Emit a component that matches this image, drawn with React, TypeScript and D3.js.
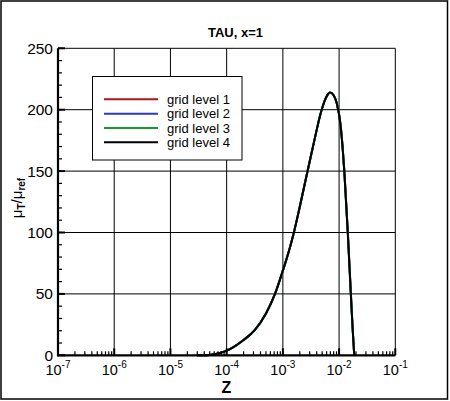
import React from "react";
import * as d3 from "d3";

const zValues = [3.0e-5, 3.98e-5, 5.01e-5, 7.08e-5, 1.0e-4, 1.41e-4, 2.0e-4, 3.16e-4, 5.01e-4, 7.24e-4, 1.0e-3, 1.32e-3, 1.55e-3, 2.0e-3, 2.66e-3, 3.55e-3, 4.9e-3, 6.03e-3, 6.92e-3, 7.94e-3, 9.12e-3, 1.05e-2, 1.15e-2, 1.245e-2, 1.43e-2, 1.62e-2, 1.74e-2, 1.86e-2];
const level1 = [0, 0, 0.3, 1.5, 3.8, 7.5, 12.5, 20.5, 34, 50, 69, 87, 99, 121, 147, 173, 200, 211, 214, 212, 205, 190, 171, 149, 101, 51, 23, 0];
const level2 = [0, 0, 0.3, 1.5, 3.8, 7.5, 12.5, 20.5, 34, 50, 69, 87, 99, 121, 147, 173, 200, 211, 214, 212, 205, 189, 171, 149, 100, 50, 22, 0];
const level3 = [0, 0, 0.3, 1.5, 3.8, 7.5, 12.5, 20.5, 34, 50, 69, 87, 99, 121, 147, 173, 200, 211, 214, 212, 205, 189, 170, 148, 99, 50, 22, 0];
const level4 = [0, 0, 0.3, 1.5, 3.8, 7.5, 12.5, 20.5, 34, 50, 69, 87, 99, 121, 147, 173, 200, 211, 214, 212, 205, 189, 170, 148, 99, 49, 22, 0];

const seriesNames = ["grid level 1", "grid level 2", "grid level 3", "grid level 4"];
const seriesColors = ["#b0141e", "#2838c8", "#189a28", "#000000"];
const seriesData = [level1, level2, level3, level4];

const xTickExps = [-7, -6, -5, -4, -3, -2, -1];
const yTicks = [0, 50, 100, 150, 200, 250];
const yMinorTicks = d3.range(0, 251, 10);

const title = "TAU, x=1";
const xLabel = "Z";

export default function App() {
  const W = 450;
  const H = 401;
  const left = 58;
  const right = 395.3;
  const top = 48.3;
  const bottom = 355.3;

  const x = d3.scaleLog().domain([1e-7, 1e-1]).range([left, right]);
  const y = d3.scaleLinear().domain([0, 250]).range([bottom, top]);

  const line = d3
    .line<[number, number]>()
    .x((d) => x(d[0]))
    .y((d) => y(d[1]))
    .curve(d3.curveMonotoneX);

  const xMinor: number[] = [];
  for (let e = -7; e < -1; e++) {
    for (let m = 2; m <= 9; m++) xMinor.push(m * Math.pow(10, e));
  }

  const font = "'Liberation Sans', Arial, Helvetica, sans-serif";

  const legX = 92.5;
  const legY = 76.5;
  const legW = 149.5;
  const legH = 83.5;
  const rowY = [99.3, 113.7, 128, 142.3];

  return (
    <svg
      width={W}
      height={H}
      style={{ position: "absolute", left: 0, top: 0, background: "#fff" }}
      fontFamily={font}
    >
      <rect x={0} y={0} width={W} height={H} fill="#fff" />
      <rect x={1} y={1} width={446.5} height={398} fill="none" stroke="#000" strokeWidth={1.5} />

      {/* grid */}
      {xTickExps.slice(1).map((e) => (
        <line key={"gx" + e} x1={x(Math.pow(10, e))} x2={x(Math.pow(10, e))} y1={top} y2={bottom} stroke="#000" strokeWidth={1} />
      ))}
      {yTicks.slice(1).map((v) => (
        <line key={"gy" + v} x1={left} x2={right} y1={y(v)} y2={y(v)} stroke="#000" strokeWidth={1} />
      ))}

      {/* series */}
      {seriesData.map((vals, i) => (
        <path
          key={"s" + i}
          d={line(zValues.map((z, j) => [z, vals[j]] as [number, number])) || ""}
          fill="none"
          stroke={seriesColors[i]}
          strokeWidth={2}
        />
      ))}

      {/* axes */}
      <line x1={left} x2={left} y1={top} y2={bottom + 1} stroke="#000" strokeWidth={2.2} />
      <line x1={left - 1} x2={right} y1={bottom} y2={bottom} stroke="#000" strokeWidth={2.2} />

      {/* y ticks */}
      {yMinorTicks.map((v) => (
        <line key={"ym" + v} x1={left} x2={left + 4} y1={y(v)} y2={y(v)} stroke="#000" strokeWidth={1.2} />
      ))}
      {yTicks.map((v) => (
        <line key={"yM" + v} x1={left} x2={left + 7} y1={y(v)} y2={y(v)} stroke="#000" strokeWidth={2} />
      ))}
      {yTicks.map((v) => (
        <text key={"yl" + v} x={53} y={y(v)} dy="0.36em" textAnchor="end" fontSize={15.5} fill="#000">
          {v}
        </text>
      ))}

      {/* x ticks */}
      {xMinor.map((v, i) => (
        <line key={"xm" + i} x1={x(v)} x2={x(v)} y1={bottom} y2={bottom - 4} stroke="#000" strokeWidth={1.2} />
      ))}
      {xTickExps.map((e) => (
        <line key={"xM" + e} x1={x(Math.pow(10, e))} x2={x(Math.pow(10, e))} y1={bottom} y2={bottom - 7} stroke="#000" strokeWidth={2} />
      ))}
      {xTickExps.map((e) => (
        <text key={"xl" + e} x={x(Math.pow(10, e))} y={375} textAnchor="middle" fontSize={14.5} fill="#000">
          10
          <tspan fontSize={10} dy={-7}>
            {String(e)}
          </tspan>
        </text>
      ))}

      {/* axis labels */}
      <text x={226.5} y={392.5} textAnchor="middle" fontSize={16} fontWeight="bold" fill="#000">
        {xLabel}
      </text>
      <text
        transform="translate(22,198) rotate(-90)"
        textAnchor="middle"
        fontSize={15}
        fill="#000"
      >
        μ
        <tspan fontSize={10} fontWeight="bold" dy={3}>T</tspan>
        <tspan dy={-3}>/μ</tspan>
        <tspan fontSize={10} fontWeight="bold" dy={3}>ref</tspan>
      </text>

      {/* title */}
      <text x={235.5} y={37} textAnchor="middle" fontSize={13} fontWeight="bold" fill="#000">
        {title}
      </text>

      {/* legend */}
      <rect x={legX} y={legY} width={legW} height={legH} fill="#fff" stroke="#000" strokeWidth={1} />
      {seriesNames.map((name, i) => (
        <g key={"lg" + i}>
          <line x1={104} x2={158} y1={rowY[i]} y2={rowY[i]} stroke={seriesColors[i]} strokeWidth={2} />
          <text x={167} y={rowY[i]} dy="0.36em" fontSize={13} fill="#000">
            {name}
          </text>
        </g>
      ))}
    </svg>
  );
}
